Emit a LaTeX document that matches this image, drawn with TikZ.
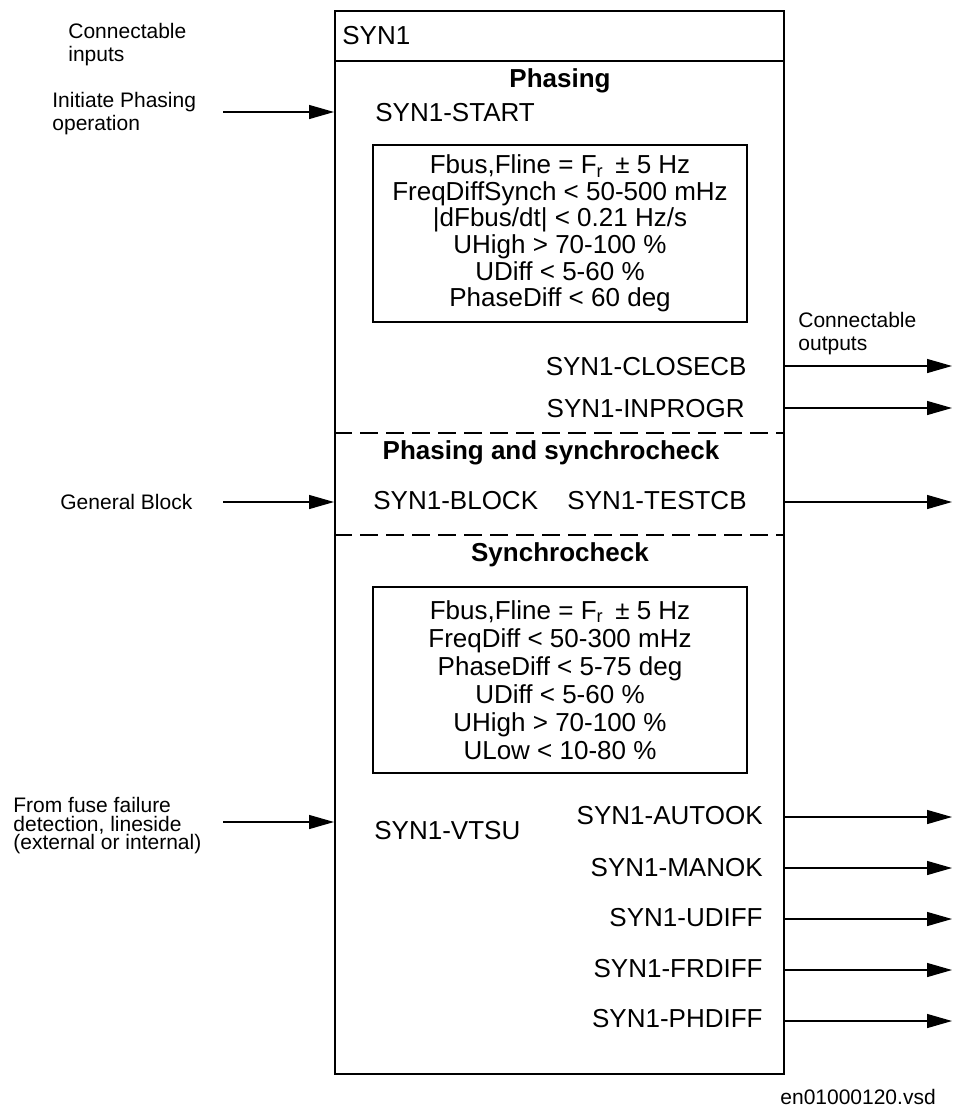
\documentclass[tikz,border=0pt]{standalone}
\usepackage{fontspec}
\setmainfont{Liberation Sans}
\usetikzlibrary{arrows.meta}

\begin{document}
\begin{tikzpicture}[x=0.5pt, y=-0.5pt,
    sig/.style={line width=0.65pt, -{Triangle[length=12.5pt, width=7pt]}},
    lbl/.style={inner sep=0pt, font=\fontsize{13}{15}\selectfont},
    ttl/.style={inner sep=0pt, font=\fontsize{13}{15}\selectfont\bfseries},
    note/.style={inner sep=0pt, align=left, font=\fontsize{10.5}{11.2}\selectfont},
    condbox/.style={draw, line width=0.75pt, inner sep=0pt, align=center, minimum width=187pt},
    sepline/.style={line width=0.65pt, dash pattern=on 9pt off 4pt}]

    \useasboundingbox (0,0) rectangle (957,1109);

    % ========== 功能块 SYN1 ==========
    \node[draw, line width=1pt, inner sep=0pt, anchor=north west,
          minimum width=224.5pt, minimum height=531.5pt] (syn) at (334,10) {};
    \draw[line width=0.7pt] (334,61) -- (783,61);
    \node[lbl, anchor=base west] (syn-name) at (342,44) {SYN1};

    % 三个区段之间的虚线
    \draw[sepline] (334,433) -- (783,433);
    \draw[sepline] (334,535) -- (783,535);

    % ========== 区段：Phasing ==========
    \node[ttl, anchor=base] (t-phasing) at (560,87) {Phasing};
    \node[lbl, anchor=base west] (p-start) at (375,121) {SYN1-START};
    \node[condbox, minimum height=88.5pt,
          font=\fontsize{13}{13.3}\selectfont] (c-phasing) at (560,233.5)
         {Fbus,Fline = F\textsubscript{r}\,\ ± 5 Hz\\
          FreqDiffSynch < 50-500 mHz\\
          |dFbus/dt| < 0.21 Hz/s\\
          UHigh > 70-100 \%\\
          UDiff < 5-60 \%\\
          PhaseDiff < 60 deg};
    \node[lbl, anchor=base east] (p-closecb) at (747,375) {SYN1-CLOSECB};
    \node[lbl, anchor=base east] (p-inprogr) at (745,417) {SYN1-INPROGR};

    % ========== 区段：Phasing and synchrocheck ==========
    \node[ttl, anchor=base] (t-both) at (551,459) {Phasing and synchrocheck};
    \node[lbl, anchor=base west] (p-block) at (373,509) {SYN1-BLOCK};
    \node[lbl, anchor=base east] (p-testcb) at (747,509) {SYN1-TESTCB};

    % ========== 区段：Synchrocheck ==========
    \node[ttl, anchor=base] (t-synch) at (560,561) {Synchrocheck};
    \node[condbox, minimum height=93pt,
          font=\fontsize{13}{14}\selectfont] (c-synch) at (560,680)
         {Fbus,Fline = F\textsubscript{r}\,\ ± 5 Hz\\
          FreqDiff < 50-300 mHz\\
          PhaseDiff < 5-75 deg\\
          UDiff < 5-60 \%\\
          UHigh > 70-100 \%\\
          ULow < 10-80 \%};
    \node[lbl, anchor=base west] (p-vtsu) at (374,839) {SYN1-VTSU};
    \node[lbl, anchor=base east] (p-autook) at (763,824) {SYN1-AUTOOK};
    \node[lbl, anchor=base east] (p-manok) at (763,876) {SYN1-MANOK};
    \node[lbl, anchor=base east] (p-udiff) at (763,926) {SYN1-UDIFF};
    \node[lbl, anchor=base east] (p-frdiff) at (763,977) {SYN1-FRDIFF};
    \node[lbl, anchor=base east] (p-phdiff) at (763,1027) {SYN1-PHDIFF};

    % ========== 左：输入 ==========
    \node[note, anchor=north west] (n-inputs) at (68,23) {Connectable\\inputs};
    \node[note, anchor=north west] (n-start) at (52,92) {Initiate Phasing\\operation};
    \node[note, anchor=base west] (n-block) at (60,509) {General Block};
    \node[note, anchor=north west, font={\fontsize{10.5}{9.2}\selectfont\lineskiplimit=-5pt\relax}]
         (n-vtsu) at (13,797) {From fuse failure\\detection, lineside\\(external or internal)};

    \coordinate (in-start) at (223,112);
    \coordinate (in-block) at (223,502);
    \coordinate (in-vtsu) at (223,822);

    \draw[sig] (in-start) -- (in-start -| syn.west);
    \draw[sig] (in-block) -- (in-block -| syn.west);
    \draw[sig] (in-vtsu) -- (in-vtsu -| syn.west);

    % ========== 右：输出 ==========
    \node[note, anchor=north west] (n-outputs) at (798,312) {Connectable\\outputs};

    \coordinate (out-closecb) at (952,366);
    \coordinate (out-inprogr) at (952,408);
    \coordinate (out-testcb) at (952,502);
    \coordinate (out-autook) at (952,817);
    \coordinate (out-manok) at (952,868);
    \coordinate (out-udiff) at (952,919);
    \coordinate (out-frdiff) at (952,970);
    \coordinate (out-phdiff) at (952,1021);

    \draw[sig] (out-closecb -| syn.east) -- (out-closecb);
    \draw[sig] (out-inprogr -| syn.east) -- (out-inprogr);
    \draw[sig] (out-testcb -| syn.east) -- (out-testcb);
    \draw[sig] (out-autook -| syn.east) -- (out-autook);
    \draw[sig] (out-manok -| syn.east) -- (out-manok);
    \draw[sig] (out-udiff -| syn.east) -- (out-udiff);
    \draw[sig] (out-frdiff -| syn.east) -- (out-frdiff);
    \draw[sig] (out-phdiff -| syn.east) -- (out-phdiff);

    % 文件名
    \node[note, anchor=base west] (n-file) at (780,1104) {en01000120.vsd};

\end{tikzpicture}
\end{document}
